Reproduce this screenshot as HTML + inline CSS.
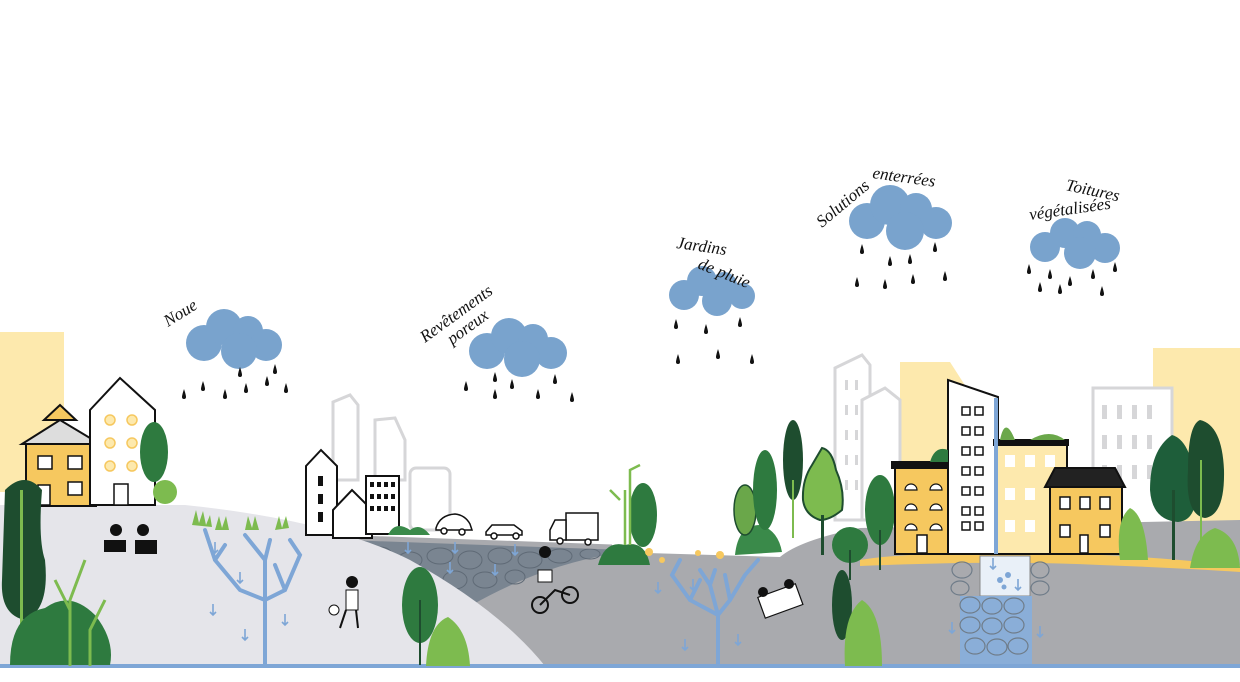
<!DOCTYPE html>
<html><head><meta charset="utf-8"><style>
html,body{margin:0;padding:0;background:#fff;}
svg{display:block}
text{font-family:"Liberation Serif",serif;font-style:italic;fill:#111;}
</style></head><body>
<svg width="1240" height="682" viewBox="0 0 1240 682" xmlns="http://www.w3.org/2000/svg">
<defs>
<g id="drop"><path d="M0,-6 Q2,0 2,2 A2,2 0 0 1 -2,2 Q-2,0 0,-6Z" fill="#111"/></g>
<g id="arr"><path d="M0,-6 V5 M-3,2 L0,5 L3,2" stroke="#7ea6d6" stroke-width="1.6" fill="none"/></g>
</defs>
<rect width="1240" height="682" fill="#fff"/>

<!-- pale yellow backgrounds -->
<rect x="0" y="332" width="64" height="160" fill="#fde9ad"/>
<rect x="1153" y="348" width="87" height="200" fill="#fde9ad"/>
<path d="M900,362 H950 L968,390 V470 H900Z" fill="#fde9ad"/>

<!-- ghost buildings -->
<g stroke="#d6d6d8" stroke-width="3" fill="#fff">
<path d="M333,402 L350,395 L358,405 V480 H333Z"/>
<path d="M375,430 V420 L395,418 L405,440 V480 H375Z"/>
<rect x="410" y="468" width="40" height="62" rx="6"/>
<path d="M835,368 L862,355 L870,365 V520 H835Z"/>
<path d="M862,400 L885,388 L900,400 V520 H862Z"/>
<rect x="1093" y="388" width="79" height="150" fill="#fff"/>
</g>
<g fill="#d6d6d8">
<rect x="1102" y="405" width="5" height="14"/><rect x="1117" y="405" width="5" height="14"/><rect x="1132" y="405" width="5" height="14"/><rect x="1147" y="405" width="5" height="14"/>
<rect x="1102" y="435" width="5" height="14"/><rect x="1117" y="435" width="5" height="14"/><rect x="1132" y="435" width="5" height="14"/><rect x="1147" y="435" width="5" height="14"/>
<rect x="1102" y="465" width="5" height="14"/><rect x="1117" y="465" width="5" height="14"/><rect x="1132" y="465" width="5" height="14"/><rect x="1147" y="465" width="5" height="14"/>
<rect x="845" y="380" width="3" height="10"/><rect x="855" y="380" width="3" height="10"/><rect x="845" y="405" width="3" height="10"/><rect x="855" y="405" width="3" height="10"/><rect x="845" y="430" width="3" height="10"/><rect x="855" y="430" width="3" height="10"/><rect x="845" y="455" width="3" height="10"/><rect x="855" y="455" width="3" height="10"/><rect x="845" y="480" width="3" height="10"/><rect x="855" y="480" width="3" height="10"/>
</g>

<!-- grey ground -->
<path d="M420,666 L470,605 Q540,565 612,552 L780,557 Q800,540 860,528 L1240,520 V666Z" fill="#a9aaae"/>
<!-- stone -->
<path d="M330,538 L612,548 L612,554 Q540,566 470,606 L400,560Z" fill="#7a8591"/>
<g fill="none" stroke="#5f6a76" stroke-width="1">
<ellipse cx="380" cy="555" rx="12" ry="8"/><ellipse cx="410" cy="560" rx="12" ry="8"/><ellipse cx="440" cy="556" rx="13" ry="8"/><ellipse cx="470" cy="560" rx="12" ry="9"/><ellipse cx="500" cy="556" rx="12" ry="8"/><ellipse cx="530" cy="560" rx="12" ry="8"/><ellipse cx="560" cy="556" rx="12" ry="7"/><ellipse cx="590" cy="554" rx="10" ry="5"/><ellipse cx="455" cy="580" rx="12" ry="9"/><ellipse cx="485" cy="580" rx="12" ry="8"/><ellipse cx="515" cy="577" rx="10" ry="7"/>
</g>
<path d="M330,537 L612,547" stroke="#a9aaae" stroke-width="5"/>
<!-- light hill -->
<path d="M0,666 V505 L185,505 Q330,520 410,560 Q500,610 545,666Z" fill="#e5e5ea"/>
<!-- yellow path right -->
<path d="M860,560 Q900,553 1000,553 Q1100,553 1180,560 Q1210,563 1240,565 V572 Q1180,568 1100,565 Q1000,560 860,566Z" fill="#f6c85f"/>
<!-- ground line -->
<rect x="0" y="664" width="1240" height="4" fill="#7ea6d6"/>

<!-- infiltration box -->
<rect x="980" y="556" width="50" height="40" fill="#e9f0f8" stroke="#888" stroke-width="1"/>
<rect x="960" y="596" width="72" height="68" fill="#8aaed8"/>
<g fill="none" stroke="#6f7c89" stroke-width="1.2">
<ellipse cx="970" cy="605" rx="10" ry="8"/><ellipse cx="992" cy="606" rx="10" ry="8"/><ellipse cx="1014" cy="606" rx="10" ry="8"/><ellipse cx="970" cy="625" rx="10" ry="8"/><ellipse cx="992" cy="626" rx="10" ry="8"/><ellipse cx="1014" cy="625" rx="10" ry="8"/><ellipse cx="975" cy="646" rx="10" ry="8"/><ellipse cx="997" cy="647" rx="10" ry="8"/><ellipse cx="1018" cy="646" rx="10" ry="8"/>
<ellipse cx="962" cy="570" rx="10" ry="8"/><ellipse cx="960" cy="588" rx="9" ry="7"/><ellipse cx="1040" cy="570" rx="9" ry="8"/><ellipse cx="1040" cy="588" rx="9" ry="7"/>
</g>
<g fill="#7ea6d6"><circle cx="1000" cy="580" r="3"/><circle cx="1008" cy="575" r="3"/><circle cx="1004" cy="587" r="2.5"/></g>

<!-- root trees blue -->
<g stroke="#7ea6d6" stroke-width="4" fill="none" stroke-linecap="round">
<path d="M265,666 V600 L240,590 L215,560 L205,530 M215,560 L225,545 M265,600 L285,590 L300,555 L290,540 M285,590 L275,565 M265,600 V560 L245,535 M265,560 L270,540"/>
<path d="M718,666 V615 L690,600 L672,575 L680,560 M690,600 L700,580 M718,615 L730,600 L745,575 L758,560 M730,600 L725,575 M718,615 L710,585 L700,570 M710,585 L715,570"/>
</g>
<g>
<use href="#arr" x="215" y="548"/><use href="#arr" x="240" y="578"/><use href="#arr" x="213" y="610"/><use href="#arr" x="245" y="635"/><use href="#arr" x="285" y="620"/>
<use href="#arr" x="408" y="548"/><use href="#arr" x="455" y="548"/><use href="#arr" x="515" y="550"/><use href="#arr" x="450" y="568"/><use href="#arr" x="495" y="570"/>
<use href="#arr" x="658" y="588"/><use href="#arr" x="693" y="585"/><use href="#arr" x="685" y="645"/><use href="#arr" x="738" y="640"/>
<use href="#arr" x="993" y="564"/><use href="#arr" x="1018" y="585"/><use href="#arr" x="952" y="628"/><use href="#arr" x="1040" y="632"/>
</g>

<!-- grass noue -->
<g fill="#7dbb4f"><path d="M192,525 l4,-15 l3,13 l4,-12 l3,14 l4,-10 l2,12Z"/><path d="M215,530 l4,-14 l3,12 l4,-12 l3,14Z"/><path d="M245,530 l3,-14 l4,12 l3,-12 l4,14Z"/><path d="M275,530 l4,-14 l3,12 l4,-12 l3,12Z"/></g>

<!-- left houses -->
<g stroke="#111" stroke-width="2">
<path d="M22,444 L60,420 L100,444Z" fill="#ddd"/>
<rect x="26" y="444" width="70" height="62" fill="#f6c85f"/>
<path d="M44,420 L60,405 L76,420Z" fill="#f6c85f"/>
<path d="M90,410 L120,378 L155,410 V505 H90Z" fill="#fff"/>
</g>
<g fill="#fff" stroke="#111" stroke-width="1.5">
<rect x="38" y="456" width="14" height="13"/><rect x="68" y="456" width="14" height="13"/><rect x="68" y="482" width="14" height="13"/><rect x="38" y="485" width="12" height="20"/><rect x="114" y="484" width="14" height="21"/>
</g>
<g fill="#fde9ad" stroke="#f6c85f" stroke-width="1.5"><circle cx="110" cy="420" r="5"/><circle cx="132" cy="420" r="5"/><circle cx="110" cy="443" r="5"/><circle cx="132" cy="443" r="5"/><circle cx="110" cy="466" r="5"/><circle cx="132" cy="466" r="5"/></g>
<!-- left trees -->
<path d="M5,490 Q25,470 42,490 Q38,540 45,560 Q50,610 25,620 Q0,615 2,580Z" fill="#1e4d2f"/>
<rect x="20" y="490" width="3" height="175" fill="#7dbb4f"/>
<path d="M10,665 Q10,615 45,608 Q70,590 95,615 Q115,640 110,665Z" fill="#2e7a3f"/>
<g stroke="#7dbb4f" stroke-width="3" fill="none"><path d="M70,666 V600 L85,560 M70,610 L55,580 M90,666 V630 L105,600"/></g>
<ellipse cx="154" cy="452" rx="14" ry="30" fill="#2e7a3f"/>
<circle cx="165" cy="492" r="12" fill="#7dbb4f"/>
<!-- kids -->
<g fill="#111"><circle cx="116" cy="530" r="6"/><circle cx="143" cy="530" r="6"/><path d="M104,540 h22 v12 h-22Z"/><path d="M135,540 h22 v14 h-22Z"/></g>

<!-- middle village -->
<g stroke="#111" stroke-width="2" fill="#fff">
<path d="M306,466 L321,450 L337,466 V535 H306Z"/>
<path d="M333,510 L352,490 L372,510 V538 H333Z"/>
<rect x="366" y="476" width="33" height="58"/>
</g>
<g fill="#111"><rect x="318" y="476" width="5" height="10"/><rect x="318" y="494" width="5" height="10"/><rect x="318" y="512" width="5" height="10"/>
<rect x="370" y="482" width="4" height="5"/><rect x="377" y="482" width="4" height="5"/><rect x="384" y="482" width="4" height="5"/><rect x="391" y="482" width="4" height="5"/>
<rect x="370" y="494" width="4" height="5"/><rect x="377" y="494" width="4" height="5"/><rect x="384" y="494" width="4" height="5"/><rect x="391" y="494" width="4" height="5"/>
<rect x="370" y="506" width="4" height="5"/><rect x="377" y="506" width="4" height="5"/><rect x="384" y="506" width="4" height="5"/><rect x="391" y="506" width="4" height="5"/></g>
<path d="M388,535 Q395,520 410,530 Q420,522 430,535Z" fill="#3a8a4a"/>
<!-- cars -->
<g stroke="#111" stroke-width="1.5" fill="#fff">
<path d="M436,528 Q440,515 455,514 Q465,515 470,524 L472,530 H436Z"/>
<path d="M486,532 L492,525 H514 L522,531 V535 H486Z"/>
<rect x="566" y="513" width="32" height="27"/><path d="M550,530 L555,520 H566 V540 H550Z"/>
</g>
<g fill="#fff" stroke="#111" stroke-width="1.5"><circle cx="444" cy="531" r="3"/><circle cx="462" cy="532" r="3"/><circle cx="494" cy="536" r="3"/><circle cx="516" cy="536" r="3"/><circle cx="560" cy="541" r="3"/><circle cx="588" cy="542" r="3"/></g>

<!-- mid trees -->
<ellipse cx="420" cy="605" rx="18" ry="38" fill="#2e7a3f"/><rect x="419" y="600" width="2" height="65" fill="#1e4d2f"/>
<path d="M426,666 Q428,625 448,617 Q468,630 470,666Z" fill="#7dbb4f"/>
<path d="M598,565 Q605,540 625,545 Q645,540 650,565Z" fill="#2e7a3f"/>
<ellipse cx="643" cy="515" rx="14" ry="32" fill="#2e7a3f"/>
<g stroke="#7dbb4f" stroke-width="2.5" fill="none"><path d="M625,545 V490 M630,545 V470 L640,465 M620,500 L610,490"/></g>
<!-- kid soccer & bike -->
<g fill="#111"><circle cx="352" cy="582" r="6"/><rect x="346" y="590" width="12" height="20" fill="#fff" stroke="#111"/><circle cx="334" cy="610" r="5" fill="#fff" stroke="#111"/><path d="M346,610 l-6,18 M356,610 l2,18" stroke="#111" stroke-width="2"/>
<circle cx="545" cy="552" r="6"/><rect x="538" y="570" width="14" height="12" fill="#fff" stroke="#111"/></g>
<g fill="none" stroke="#111" stroke-width="2"><circle cx="540" cy="605" r="8"/><circle cx="570" cy="595" r="8"/><path d="M540,605 L555,590 L570,595"/></g>

<!-- jardin plants -->
<g fill="#f6c85f"><circle cx="649" cy="552" r="4"/><circle cx="662" cy="560" r="3"/><circle cx="720" cy="555" r="4"/><circle cx="698" cy="553" r="3"/></g>
<path d="M735,555 Q738,525 760,525 Q778,530 782,552Z" fill="#3a8a4a"/>
<ellipse cx="745" cy="510" rx="11" ry="25" fill="#6aa74a" stroke="#1e4d2f" stroke-width="1.5"/>
<ellipse cx="765" cy="490" rx="12" ry="40" fill="#2e7a3f"/>
<ellipse cx="793" cy="460" rx="10" ry="40" fill="#1e4d2f"/><rect x="792" y="480" width="2" height="58" fill="#7dbb4f"/>
<path d="M822,448 Q832,450 836,470 Q845,490 842,510 Q830,520 820,520 Q805,515 803,500 Q802,480 812,465Z" fill="#7dbb4f" stroke="#1e4d2f" stroke-width="2"/><rect x="821" y="515" width="3" height="40" fill="#1e4d2f"/>
<circle cx="850" cy="545" r="18" fill="#2e7a3f"/><rect x="849" y="550" width="2" height="30" fill="#1e4d2f"/>
<ellipse cx="880" cy="510" rx="15" ry="35" fill="#2e7a3f"/><rect x="879" y="530" width="2" height="40" fill="#1e4d2f"/>
<ellipse cx="842" cy="605" rx="10" ry="35" fill="#1e4d2f"/>
<path d="M845,666 Q842,615 862,600 Q882,612 882,666Z" fill="#7dbb4f"/>
<!-- picnic -->
<g><rect x="760" y="590" width="40" height="22" fill="#fff" stroke="#111" stroke-width="1.2" transform="rotate(-20 780 600)"/><circle cx="763" cy="592" r="5" fill="#111"/><circle cx="789" cy="584" r="5" fill="#111"/></g>

<!-- right buildings -->
<g stroke="#111" stroke-width="2">
<rect x="895" y="462" width="56" height="92" fill="#f6c85f"/>
<rect x="892" y="462" width="62" height="6" fill="#111"/>
<path d="M948,380 L998,397 V554 H948Z" fill="#fff"/>
<rect x="997" y="441" width="70" height="113" fill="#fde9ad"/>
<rect x="994" y="440" width="74" height="5" fill="#111"/>
<rect x="1050" y="487" width="72" height="67" fill="#f6c85f"/>
<path d="M1045,487 L1055,468 H1115 L1125,487Z" fill="#222"/>
</g>
<rect x="994" y="398" width="4" height="156" fill="#7ea6d6"/>
<g fill="#fff" stroke="#111" stroke-width="1.5">
<rect x="962" y="407" width="8" height="8"/><rect x="975" y="407" width="8" height="8"/><rect x="962" y="427" width="8" height="8"/><rect x="975" y="427" width="8" height="8"/><rect x="962" y="447" width="8" height="8"/><rect x="975" y="447" width="8" height="8"/><rect x="962" y="467" width="8" height="8"/><rect x="975" y="467" width="8" height="8"/><rect x="962" y="487" width="8" height="8"/><rect x="975" y="487" width="8" height="8"/><rect x="962" y="507" width="8" height="8"/><rect x="975" y="507" width="8" height="8"/><rect x="962" y="522" width="8" height="8"/><rect x="975" y="522" width="8" height="8"/>
<rect x="1060" y="497" width="10" height="12"/><rect x="1080" y="497" width="10" height="12"/><rect x="1100" y="497" width="10" height="12"/><rect x="1060" y="525" width="10" height="12"/><rect x="1100" y="525" width="10" height="12"/><rect x="1080" y="535" width="8" height="18"/><rect x="917" y="535" width="10" height="18"/>
</g>
<g fill="#fff"><rect x="1005" y="455" width="10" height="12"/><rect x="1025" y="455" width="10" height="12"/><rect x="1045" y="455" width="10" height="12"/><rect x="1005" y="488" width="10" height="12"/><rect x="1025" y="488" width="10" height="12"/><rect x="1005" y="520" width="10" height="12"/><rect x="1025" y="520" width="10" height="12"/></g>
<g fill="#fff" stroke="#111" stroke-width="1.2"><path d="M905,490 a6,6 0 0 1 12,0Z"/><path d="M930,490 a6,6 0 0 1 12,0Z"/><path d="M905,510 a6,6 0 0 1 12,0Z"/><path d="M930,510 a6,6 0 0 1 12,0Z"/><path d="M905,530 a6,6 0 0 1 12,0Z"/><path d="M930,530 a6,6 0 0 1 12,0Z"/></g>
<path d="M930,462 Q935,445 948,450 V462Z" fill="#2e7a3f"/>
<path d="M1000,440 Q1005,415 1015,440Z M1030,440 Q1050,428 1065,440Z" fill="#6aa74a"/>
<!-- right trees -->
<path d="M1120,560 Q1115,520 1130,508 Q1145,515 1148,560Z" fill="#7dbb4f"/>
<path d="M1172,435 Q1190,440 1195,480 Q1200,520 1178,522 Q1152,520 1150,490 Q1150,450 1172,435Z" fill="#1e5e3a"/><rect x="1172" y="490" width="3" height="70" fill="#1e4d2f"/>
<path d="M1200,420 Q1222,425 1224,470 Q1225,515 1205,518 Q1185,515 1188,470 Q1188,425 1200,420Z" fill="#1e4d2f"/><rect x="1200" y="460" width="2" height="85" fill="#7dbb4f"/>
<path d="M1190,568 Q1195,535 1215,528 Q1238,535 1240,568Z" fill="#7dbb4f"/>

<!-- clouds -->
<g fill="#79a3cd">
<g transform="translate(234,341)"><circle cx="-30" cy="2" r="18"/><circle cx="-10" cy="-14" r="18"/><circle cx="14" cy="-10" r="15"/><circle cx="32" cy="4" r="16"/><circle cx="5" cy="10" r="18"/></g>
<g transform="translate(517,349)"><circle cx="-30" cy="2" r="18"/><circle cx="-8" cy="-13" r="18"/><circle cx="16" cy="-10" r="15"/><circle cx="34" cy="4" r="16"/><circle cx="5" cy="10" r="18"/></g>
<g transform="translate(712,293)"><circle cx="-28" cy="2" r="15"/><circle cx="-10" cy="-12" r="15"/><circle cx="12" cy="-8" r="13"/><circle cx="30" cy="3" r="13"/><circle cx="5" cy="8" r="15"/></g>
<g transform="translate(900,219)"><circle cx="-33" cy="2" r="18"/><circle cx="-10" cy="-14" r="20"/><circle cx="16" cy="-10" r="16"/><circle cx="36" cy="4" r="16"/><circle cx="5" cy="12" r="19"/></g>
<g transform="translate(1075,245)"><circle cx="-30" cy="2" r="15"/><circle cx="-10" cy="-12" r="15"/><circle cx="12" cy="-10" r="14"/><circle cx="30" cy="3" r="15"/><circle cx="5" cy="8" r="16"/></g>
</g>
<!-- drops -->
<g>
<use href="#drop" x="184" y="395"/><use href="#drop" x="203" y="387"/><use href="#drop" x="225" y="395"/><use href="#drop" x="246" y="389"/><use href="#drop" x="267" y="382"/><use href="#drop" x="286" y="389"/><use href="#drop" x="240" y="373"/><use href="#drop" x="275" y="370"/>
<use href="#drop" x="466" y="387"/><use href="#drop" x="495" y="395"/><use href="#drop" x="512" y="385"/><use href="#drop" x="538" y="395"/><use href="#drop" x="555" y="380"/><use href="#drop" x="572" y="398"/><use href="#drop" x="495" y="378"/>
<use href="#drop" x="676" y="325"/><use href="#drop" x="706" y="330"/><use href="#drop" x="740" y="323"/><use href="#drop" x="678" y="360"/><use href="#drop" x="718" y="355"/><use href="#drop" x="752" y="360"/>
<use href="#drop" x="862" y="250"/><use href="#drop" x="890" y="262"/><use href="#drop" x="910" y="260"/><use href="#drop" x="935" y="248"/><use href="#drop" x="857" y="283"/><use href="#drop" x="885" y="285"/><use href="#drop" x="913" y="280"/><use href="#drop" x="945" y="277"/>
<use href="#drop" x="1029" y="270"/><use href="#drop" x="1050" y="275"/><use href="#drop" x="1070" y="282"/><use href="#drop" x="1093" y="275"/><use href="#drop" x="1115" y="268"/><use href="#drop" x="1040" y="288"/><use href="#drop" x="1060" y="290"/><use href="#drop" x="1102" y="292"/>
</g>
<!-- labels -->
<text x="168" y="327" font-size="17" transform="rotate(-32 168 327)">Noue</text>
<text x="425" y="343" font-size="17" transform="rotate(-36 425 343)">Revêtements</text>
<text x="452" y="345" font-size="17" transform="rotate(-36 452 345)">poreux</text>
<text x="676" y="248" font-size="17" transform="rotate(8 676 248)">Jardins</text>
<text x="697" y="268" font-size="17" transform="rotate(22 697 268)">de pluie</text>
<text x="822" y="228" font-size="17" transform="rotate(-40 822 228)">Solutions</text>
<text x="872" y="178" font-size="17" transform="rotate(8 872 178)">enterrées</text>
<text x="1065" y="190" font-size="17" transform="rotate(12 1065 190)">Toitures</text>
<text x="1030" y="220" font-size="17" transform="rotate(-8 1030 220)">végétalisées</text>
</svg>
</body></html>
